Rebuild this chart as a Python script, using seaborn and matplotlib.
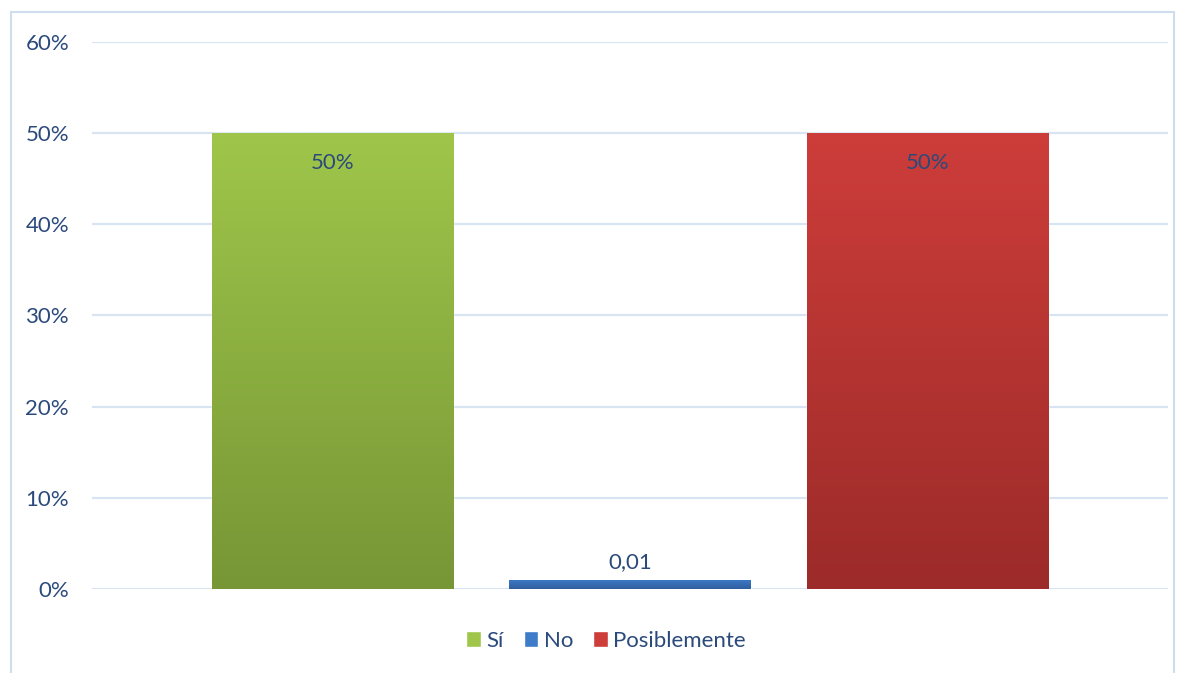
import numpy as np
import pandas as pd
import matplotlib
matplotlib.use("Agg")
import matplotlib.pyplot as plt
import seaborn as sns
from matplotlib.colors import LinearSegmentedColormap
from matplotlib.patches import Rectangle

# datos
categorias = ["Sí", "No", "Posiblemente"]
valores = [0.50, 0.01, 0.50]
etiquetas = ["50%", "0,01", "50%"]
# colores (arriba, abajo) para el degradado
colores_top = ["#9FC64A", "#3E7BC9", "#CD3D3A"]
colores_bot = ["#779636", "#2F5F9F", "#9C2B29"]

sns.set_theme(style="white")
plt.rcParams["font.family"] = ["Lato", "DejaVu Sans"]
texto = "#2B4A7C"
fs = 16

df = pd.DataFrame({"cat": categorias, "val": valores})

fig = plt.figure(figsize=(11.82, 6.73), dpi=100)
ax = fig.add_axes([92 / 1182, 84 / 673, 1076 / 1182, 547 / 673])

sns.barplot(data=df, x="cat", y="val", hue="cat", palette=colores_top,
            width=0.81, dodge=False, legend=False, ax=ax, zorder=3)

# degradado vertical dentro de cada barra
for patch, ct, cb in zip(ax.patches, colores_top, colores_bot):
    x0, y0 = patch.get_x(), patch.get_y()
    w, h = patch.get_width(), patch.get_height()
    cmap = LinearSegmentedColormap.from_list("g", [cb, ct])
    grad = np.linspace(0, 1, 256).reshape(-1, 1)
    im = ax.imshow(grad, cmap=cmap, aspect="auto", origin="lower",
                   extent=[x0, x0 + w, y0, y0 + h], zorder=3)
    im.set_clip_path(patch)

ax.set_xlim(1 - 1.808, 1 + 1.808)
ax.set_ylim(0, 0.6)
ticks = np.arange(0, 0.61, 0.1)
ax.set_yticks(ticks)
ax.set_yticklabels([f"{int(round(t * 100))}%" for t in ticks], color=texto, fontsize=fs)
ax.tick_params(axis="y", length=0, pad=16.5)
ax.set_xticks([])
ax.set_xlabel("")
ax.set_ylabel("")
ax.grid(axis="y", color="#D9E4F2", linewidth=1.6, zorder=0)
for s in ax.spines.values():
    s.set_visible(False)

# etiquetas de datos
for i, (v, lab) in enumerate(zip(valores, etiquetas)):
    if v > 0.1:
        ax.text(i, v - 0.033, lab, ha="center", va="center", color=texto, fontsize=fs, zorder=5)
    else:
        ax.text(i, v + 0.019, lab, ha="center", va="center", color=texto, fontsize=fs, zorder=5)

# leyenda
handles = [Rectangle((0, 0), 1, 1, facecolor=c) for c in colores_top]
leg = fig.legend(handles, categorias, loc="center", bbox_to_anchor=(606 / 1182, 1 - 641 / 673),
                 ncol=3, frameon=False, fontsize=fs, handlelength=0.65, handleheight=0.7,
                 handletextpad=0.25, columnspacing=0.9)
for t in leg.get_texts():
    t.set_color(texto)

# borde exterior
fig.patches.append(Rectangle((11 / 1182, -10 / 673), 1163 / 1182, 671 / 673,
                             transform=fig.transFigure, fill=False,
                             edgecolor="#D0DDEE", linewidth=1.5))

fig.savefig("out.png", dpi=100)
